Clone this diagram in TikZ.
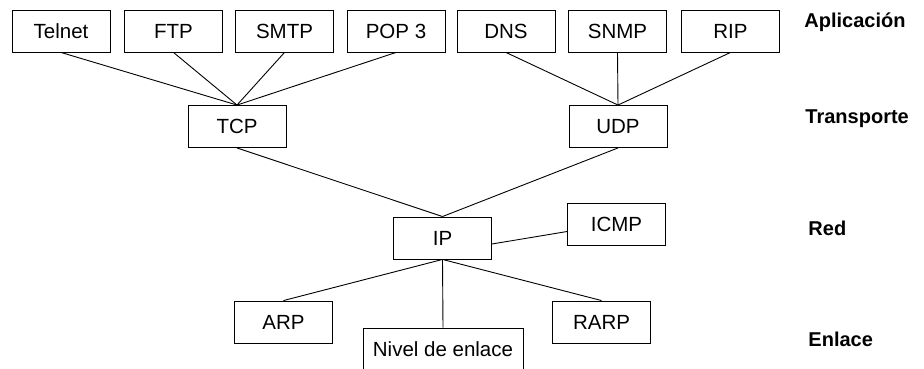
\documentclass[tikz,border=0pt]{standalone}
\usepackage{fontspec}
\setmainfont{Liberation Sans}
\begin{document}
\begin{tikzpicture}
[x=1pt, y=-1pt, draw=black, line width=0.9pt,
font=\fontsize{20.5}{24}\selectfont,
proto/.style={rectangle, draw, inner sep=0pt, minimum width=98pt, minimum height=42pt},
protow/.style={rectangle, draw, inner sep=0pt, minimum width=160pt, minimum height=42pt},
layer/.style={anchor=base west, inner sep=0pt, font=\fontsize{20}{24}\selectfont\bfseries}]

\useasboundingbox (0,0) rectangle (924,369);

\node[proto] (telnet) at (61.0,31) {Telnet};
\node[proto] (ftp) at (173.5,31) {FTP};
\node[proto] (smtp) at (284.5,31) {SMTP};
\node[proto] (pop) at (396.0,31) {POP 3};
\node[proto] (dns) at (506.0,31) {DNS};
\node[proto] (snmp) at (617.5,31) {SNMP};
\node[proto] (rip) at (730.5,31) {RIP};

\node[proto] (tcp) at (237.0,126.5) {TCP};
\node[proto] (udp) at (618.0,126.5) {UDP};

\node[proto] (ip) at (442.5,238) {IP};
\node[proto] (icmp) at (616.5,224.5) {ICMP};

\node[proto] (arp) at (283.5,322) {ARP};
\node[protow] (nivel) at (443.0,349) {Nivel de enlace};
\node[proto] (rarp) at (601.5,322) {RARP};

\draw (telnet.south) -- (tcp.north);
\draw (ftp.south) -- (tcp.north);
\draw (smtp.south) -- (tcp.north);
\draw (pop.south) -- (tcp.north);
\draw (dns.south) -- (udp.north);
\draw (snmp.south) -- (udp.north);
\draw (rip.south) -- (udp.north);

\draw (tcp.south) -- (ip.north);
\draw (udp.south) -- (ip.north);
\draw ([yshift=-6pt]ip.east) -- ([yshift=-7pt]icmp.west);

\draw (ip.south) -- (arp.north);
\draw (ip.south) -- (nivel.north);
\draw (ip.south) -- (rarp.north);

\node[layer] (aplicacion) at (804,28) {Aplicación};
\node[layer] (transporte) at (805,124) {Transporte};
\node[layer] (red) at (808,235) {Red};
\node[layer] (enlace) at (808,346.5) {Enlace};
\end{tikzpicture}
\end{document}
